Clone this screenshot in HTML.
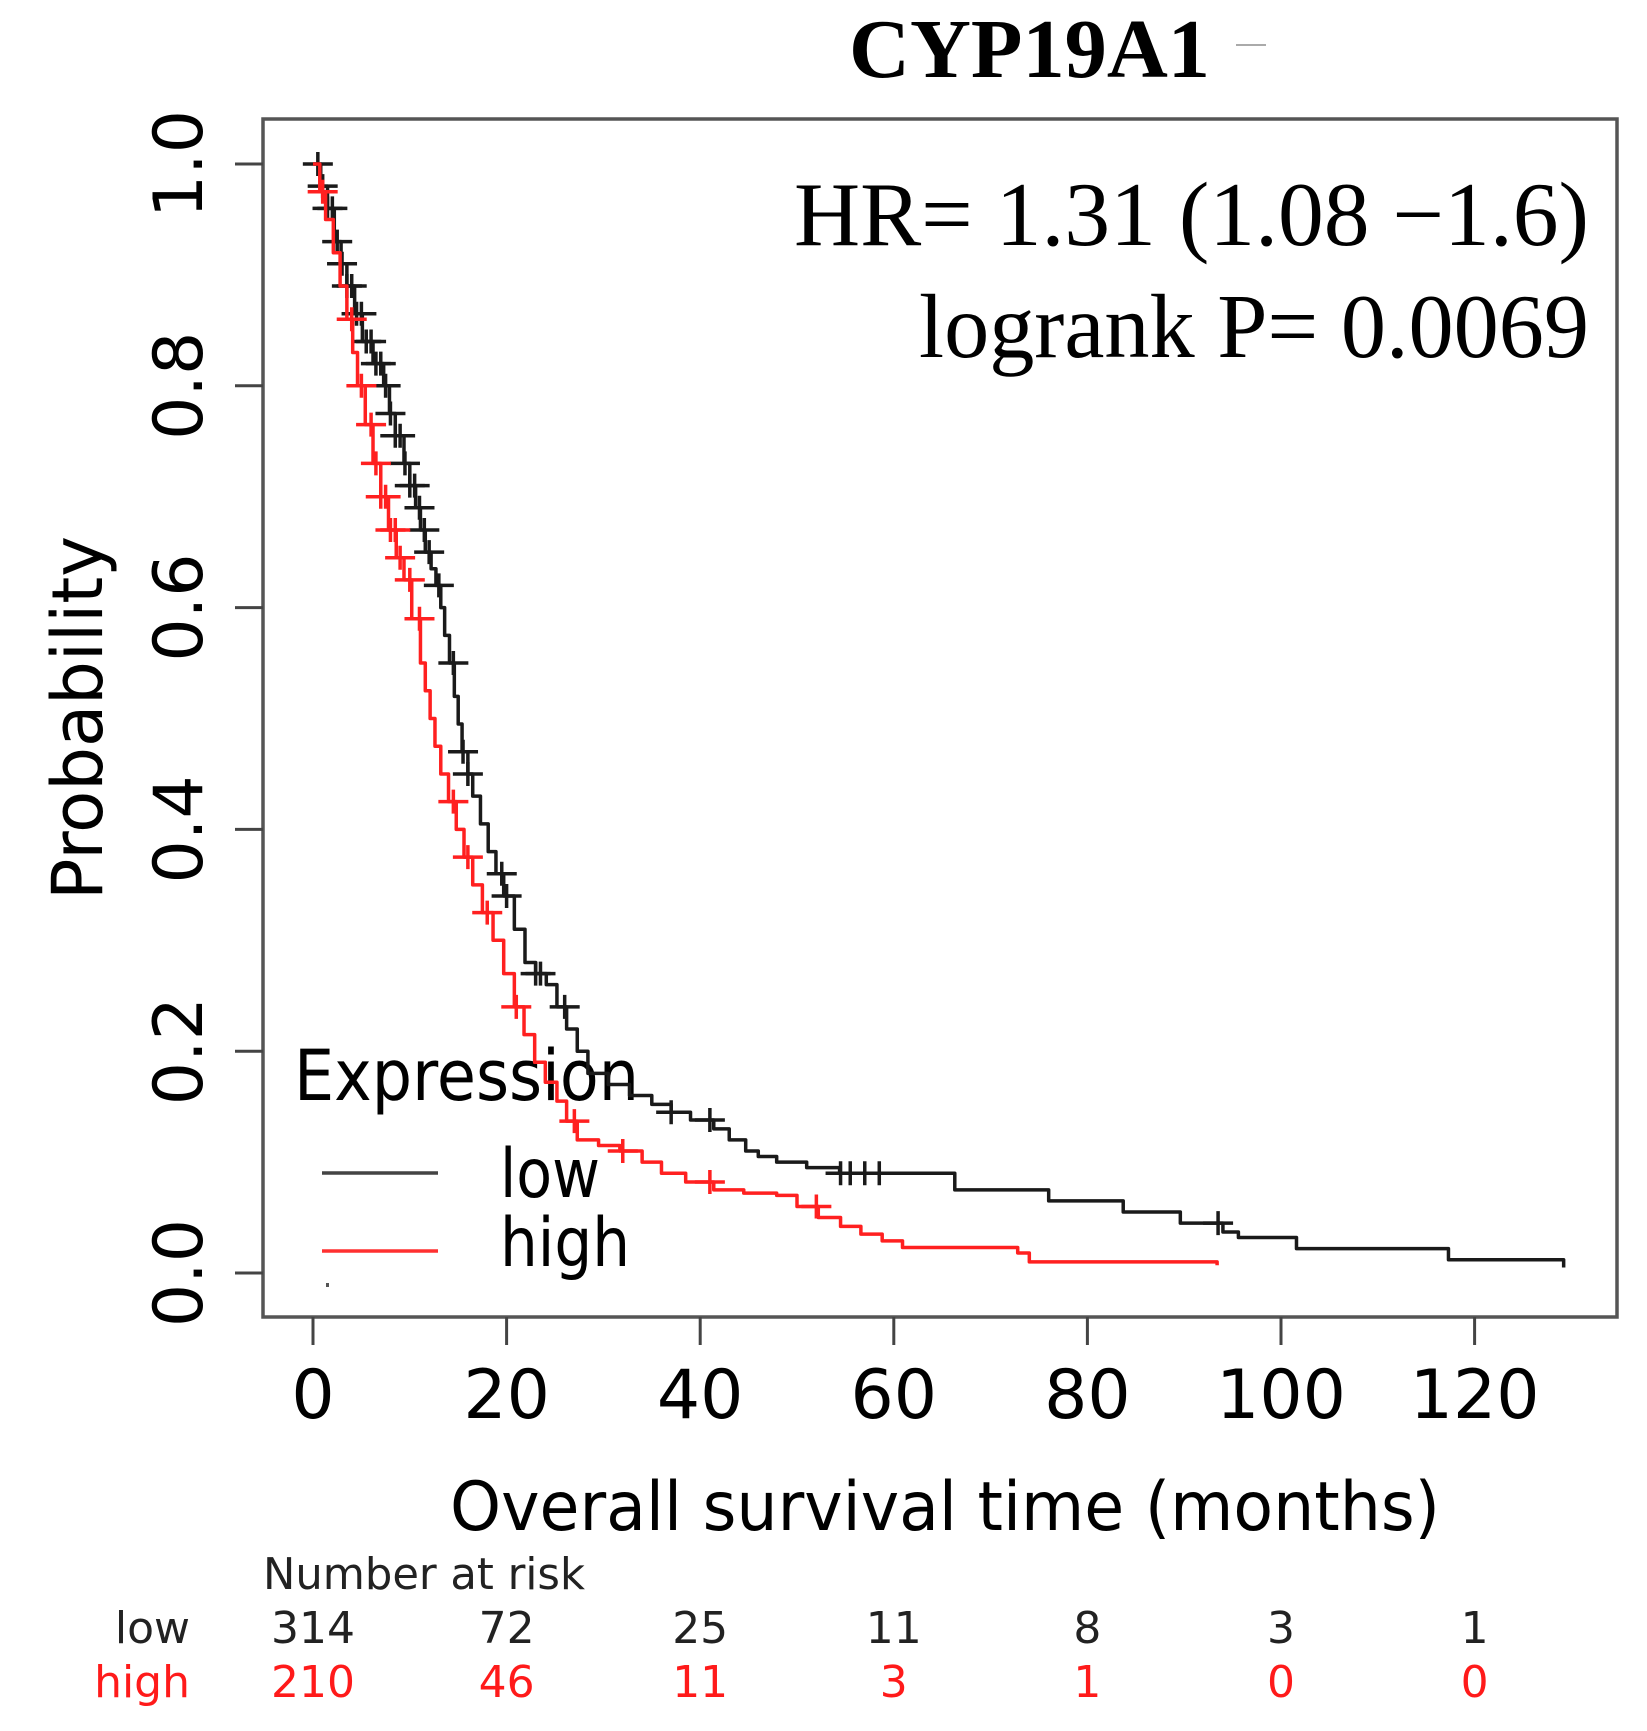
<!DOCTYPE html>
<html><head><meta charset="utf-8"><style>
html,body{margin:0;padding:0;background:#fff;}
svg{display:block;}
</style></head><body>
<svg id="chart" width="1647" height="1731" viewBox="0 0 1647 1731" xmlns="http://www.w3.org/2000/svg">
<rect x="0" y="0" width="1647" height="1731" fill="#fff"/>
<text x="849" y="77" textLength="361" lengthAdjust="spacingAndGlyphs" font-family="Liberation Serif, serif" font-weight="bold" font-size="84" fill="#000">CYP19A1</text>
<line x1="1236" y1="45" x2="1266" y2="45" stroke="#aaa" stroke-width="2"/>
<rect x="263" y="119" width="1354" height="1198" fill="none" stroke="#555" stroke-width="3.5"/>
<text x="1589" y="245" text-anchor="end" textLength="795" lengthAdjust="spacingAndGlyphs" font-family="Liberation Serif, serif" font-size="91" fill="#000">HR= 1.31 (1.08 −1.6)</text>
<text x="1589" y="357" text-anchor="end" textLength="670" lengthAdjust="spacingAndGlyphs" font-family="Liberation Serif, serif" font-size="91" fill="#000">logrank P= 0.0069</text>
<text transform="translate(102,718) rotate(-90)" text-anchor="middle" textLength="364" lengthAdjust="spacingAndGlyphs" font-family="DejaVu Sans, sans-serif" font-size="70" fill="#000">Probability</text>
<text x="450" y="1530" textLength="990" lengthAdjust="spacingAndGlyphs" font-family="DejaVu Sans, sans-serif" font-size="68" fill="#000">Overall survival time (months)</text>
<text x="263" y="1589" textLength="322" lengthAdjust="spacingAndGlyphs" font-family="DejaVu Sans, sans-serif" font-size="44" fill="#222">Number at risk</text>
<text x="190" y="1643" text-anchor="end" font-family="DejaVu Sans, sans-serif" font-size="44" fill="#222">low</text>
<text x="190" y="1697" text-anchor="end" font-family="DejaVu Sans, sans-serif" font-size="44" fill="#ff1a1a">high</text>
<text x="294" y="1100" textLength="345" lengthAdjust="spacingAndGlyphs" font-family="DejaVu Sans, sans-serif" font-size="70" fill="#000">Expression</text>
<line x1="322" y1="1173" x2="438" y2="1173" stroke="#444" stroke-width="3.5"/>
<text x="500" y="1197" textLength="100" lengthAdjust="spacingAndGlyphs" font-family="DejaVu Sans, sans-serif" font-size="68" fill="#000">low</text>
<line x1="322" y1="1251" x2="438" y2="1251" stroke="#ff3030" stroke-width="3.5"/>
<text x="500" y="1266" textLength="130" lengthAdjust="spacingAndGlyphs" font-family="DejaVu Sans, sans-serif" font-size="68" fill="#000">high</text>
<rect x="326" y="1283" width="3" height="4" fill="#555"/>
<g id="axes"></g>
<g id="curves"></g>
</svg>
<script>
const xTicks = [0, 20, 40, 60, 80, 100, 120];
const yTicks = [0, 0.2, 0.4, 0.6, 0.8, 1.0];
const yTickLabels = ["0.0", "0.2", "0.4", "0.6", "0.8", "1.0"];
const riskLow = [314, 72, 25, 11, 8, 3, 1];
const riskHigh = [210, 46, 11, 3, 1, 0, 0];
const lowTimes = [0, 0.8, 1.5, 2.2, 2.9, 3.5, 4.3, 5.1, 6.2, 7.3, 7.9, 8.5, 9.4, 10, 10.6, 11.1, 11.6, 12.2, 12.7, 13.2, 13.6, 14.1, 14.6, 15, 15.4, 16, 16.5, 17.3, 18.1, 18.9, 19.7, 20.8, 21.9, 23, 24.1, 25.2, 26.2, 27.3, 28.4, 30.5, 32.7, 35, 37, 39, 41.4, 43, 44.7, 46, 47.9, 51, 54.4, 59.8, 66.3, 76, 83.7, 89.6, 94, 95.6, 101.6, 117.3, 129.2];
const lowSurv = [1.0, 0.98, 0.96, 0.93, 0.91, 0.89, 0.865, 0.84, 0.82, 0.80, 0.775, 0.755, 0.73, 0.71, 0.69, 0.67, 0.65, 0.635, 0.62, 0.60, 0.575, 0.55, 0.52, 0.495, 0.47, 0.45, 0.43, 0.405, 0.38, 0.36, 0.34, 0.31, 0.28, 0.27, 0.26, 0.24, 0.22, 0.20, 0.18, 0.17, 0.16, 0.152, 0.145, 0.138, 0.13, 0.12, 0.11, 0.105, 0.10, 0.095, 0.09, 0.09, 0.075, 0.065, 0.055, 0.045, 0.037, 0.032, 0.022, 0.012, 0.005];
const highTimes = [0, 0.7, 1.3, 2.1, 2.8, 3.5, 4.1, 4.6, 5.4, 6.2, 7, 7.8, 8.6, 9.4, 10.2, 11.1, 11.6, 12.1, 12.6, 13.2, 14, 14.8, 15.6, 16.5, 17.5, 18.6, 19.7, 20.8, 21.8, 22.9, 24, 25.2, 26.2, 27.3, 29.5, 31.7, 34, 36, 38.5, 41.4, 44.5, 47.9, 50, 52.2, 54.5, 56.6, 58.8, 60.9, 72.8, 74, 93.4];
const highSurv = [1.0, 0.975, 0.95, 0.92, 0.89, 0.86, 0.83, 0.80, 0.765, 0.73, 0.70, 0.67, 0.645, 0.625, 0.59, 0.55, 0.525, 0.50, 0.475, 0.45, 0.425, 0.40, 0.375, 0.35, 0.325, 0.30, 0.27, 0.24, 0.215, 0.19, 0.172, 0.155, 0.137, 0.12, 0.115, 0.11, 0.10, 0.09, 0.082, 0.075, 0.072, 0.07, 0.06, 0.05, 0.042, 0.035, 0.029, 0.023, 0.018, 0.01, 0.007];
const lowCensor = [0.5, 1, 1.5, 2, 2.5, 3, 3.5, 4, 4.5, 5, 5.5, 6, 6.5, 7, 7.5, 8, 8.5, 9, 9.5, 10, 10.5, 11, 11.5, 12, 13, 14.5, 15.5, 16, 19.5, 20, 23, 23.5, 26, 37, 41, 54.5, 55.5, 57, 58.5, 93.5];
const highCensor = [1, 4, 5, 6, 6.5, 7, 7.5, 8, 8.5, 9, 10, 11, 14.5, 16, 18, 21, 27, 32, 41, 52];

const NS = "http://www.w3.org/2000/svg";
function xs(t){ return 313 + t * 9.68; }
function ys(p){ return 1273 - p * 1109; }
function mk(tag, attrs, parent){ const e = document.createElementNS(NS, tag); for (const k in attrs) e.setAttribute(k, attrs[k]); parent.appendChild(e); return e; }
const axes = document.getElementById('axes');
const curves = document.getElementById('curves');

xTicks.forEach((t, i) => {
  const l = mk('line', {x1: xs(t), x2: xs(t), y1: 1317, y2: 1345, stroke: '#444', 'stroke-width': 3}, axes);
  
  
  const tx = mk('text', {x: xs(t), y: 1418, 'text-anchor': 'middle', 'font-family': 'DejaVu Sans, sans-serif', 'font-size': 68, fill: '#000'}, axes);
  tx.textContent = String(t);
  
  
  const r1 = mk('text', {x: xs(t), y: 1643, 'text-anchor': 'middle', 'font-family': 'DejaVu Sans, sans-serif', 'font-size': 44, fill: '#222'}, axes);
  r1.textContent = String(riskLow[i]);
  
  
  const r2 = mk('text', {x: xs(t), y: 1697, 'text-anchor': 'middle', 'font-family': 'DejaVu Sans, sans-serif', 'font-size': 44, fill: '#ff1a1a'}, axes);
  r2.textContent = String(riskHigh[i]);
  
  
});
yTicks.forEach((p, i) => {
  const l = mk('line', {x1: 235, x2: 263, y1: ys(p), y2: ys(p), stroke: '#444', 'stroke-width': 3}, axes);
  
  
  const tx = mk('text', {transform: 'translate(202,' + ys(p) + ') rotate(-90)', 'text-anchor': 'middle', 'font-family': 'DejaVu Sans, sans-serif', 'font-size': 68, fill: '#000'}, axes);
  tx.textContent = yTickLabels[i];
  
  
});

function survAt(times, surv, t){ let s = surv[0]; for (let i = 0; i < times.length; i++){ if (times[i] <= t) s = surv[i]; } return s; }
function drawCurve(times, surv, censor, color, name){
  let d = 'M' + xs(times[0]) + ',' + ys(surv[0]);
  for (let i = 1; i < times.length; i++){
    d += ' L' + xs(times[i]) + ',' + ys(surv[i-1]) + ' L' + xs(times[i]) + ',' + ys(surv[i]);
  }
  const p = mk('path', {d: d, fill: 'none', stroke: color, 'stroke-width': 3.5, 'stroke-linejoin': 'round'}, curves);
  
  
  censor.forEach(t => {
    const cx = xs(t), cy = ys(survAt(times, surv, t));
    const g = mk('path', {d: 'M' + (cx - 15) + ',' + cy + ' H' + (cx + 15) + ' M' + cx + ',' + (cy - 12) + ' V' + (cy + 12), stroke: color, 'stroke-width': 3.5, fill: 'none'}, curves);
    
    
  });
}
drawCurve(lowTimes, lowSurv, lowCensor, '#1a1a1a', 'low');
drawCurve(highTimes, highSurv, highCensor, '#ff2020', 'high');
</script>
</body></html>
